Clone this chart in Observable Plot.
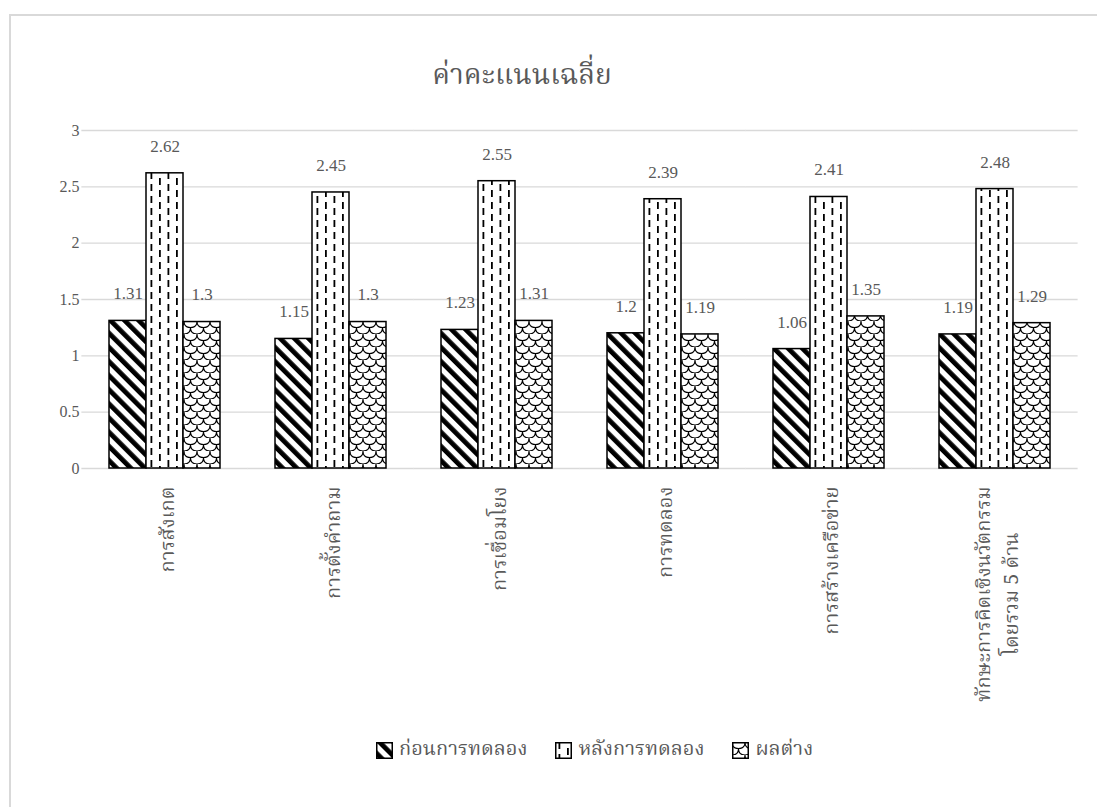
<!DOCTYPE html>
<html><head><meta charset="utf-8">
<script src="https://cdn.jsdelivr.net/npm/d3@7"></script>
<script src="https://cdn.jsdelivr.net/npm/@observablehq/plot@0.6"></script>
<style>
body{margin:0;background:#fff;width:1097px;height:807px;overflow:hidden;position:relative;font-family:"Norasi","Kinnari","Noto Serif Thai","Liberation Serif","DejaVu Serif",serif}
#frame{position:absolute;left:9px;top:14px;width:1200px;height:900px;border:2px solid #d9d9d9;box-sizing:border-box}
#title{position:absolute;top:54px;left:0;width:1044px;text-align:center;font-size:28px;font-weight:normal;color:#595959}
#chart{position:absolute;left:0;top:100px}
#legend{position:absolute;top:734px;left:376px;display:flex;gap:28px;font-size:20px;color:#595959}
#legend .item{display:flex;align-items:center;gap:6px}
</style></head>
<body>
<svg width="0" height="0" style="position:absolute">
<defs>
<pattern id="pBefore" patternUnits="userSpaceOnUse" width="10" height="10" patternTransform="rotate(-45)">
<rect width="10" height="10" fill="#fff"/><rect x="0" y="0" width="4.8" height="10" fill="#000"/>
</pattern>
<pattern id="pAfter" patternUnits="userSpaceOnUse" width="17" height="12">
<rect width="17" height="12" fill="#fff"/>
<rect x="3.5" y="0" width="1.8" height="7" fill="#000"/>
<rect x="12" y="6" width="1.8" height="6" fill="#000"/>
<rect x="12" y="0" width="1.8" height="1" fill="#000"/>
</pattern>
<pattern id="pDiff" patternUnits="userSpaceOnUse" width="13" height="13">
<rect width="13" height="13" fill="#fff"/>
<path d="M0,0 Q0,6.5 6.5,6.5 Q13,6.5 13,0 M-6.5,6.5 Q-6.5,13 0,13 Q6.5,13 6.5,6.5 M6.5,6.5 Q6.5,13 13,13 Q19.5,13 19.5,6.5" fill="none" stroke="#000" stroke-width="1.1"/>
</pattern>
</defs></svg>
<div id="frame"></div>
<div id="title">ค่าคะแนนเฉลี่ย</div>
<div id="chart"></div>
<div id="legend"></div>
<script>
const categories = ["การสังเกต","การตั้งคำถาม","การเชื่อมโยง","การทดลอง","การสร้างเครือข่าย","ทักษะการคิดเชิงนวัตกรรม\nโดยรวม 5 ด้าน"];
const series = ["ก่อนการทดลอง","หลังการทดลอง","ผลต่าง"];
const beforeValues = [1.31,1.15,1.23,1.2,1.06,1.19];
const afterValues = [2.62,2.45,2.55,2.39,2.41,2.48];
const diffValues = [1.3,1.3,1.31,1.19,1.35,1.29];
const yTicks = [0,0.5,1,1.5,2,2.5,3];

const patternIds = ["pBefore","pAfter","pDiff"];
const valueSets = [beforeValues, afterValues, diffValues];
const rows = categories.flatMap((c,i)=>series.map((s,j)=>({category:c, series:s, value:valueSets[j][i]})));

const W = 1097, ML = 80, MR = 19, PI = 0.32, PO = 0.16;
const step = (W - ML - MR) / (categories.length - PI + 2 * PO);
const halfGap = PI * step / 2; // extend gridlines across the gaps between facet cells
const numFont = '"Liberation Serif","DejaVu Serif",serif';
const thaiFont = '"Norasi","Kinnari","Noto Serif Thai","Liberation Serif","DejaVu Serif",serif';

const marks = [
  Plot.ruleY(yTicks, {y: d=>d, stroke:"#d9d9d9", strokeWidth:1.4, insetLeft:-halfGap, insetRight:-halfGap}),
  Plot.axisY({ticks:yTicks, tickFormat:d=>String(d), tickSize:0, tickPadding:29, label:null, fontSize:16, fontFamily:numFont}),
  Plot.axisFx({anchor:"bottom", tickRotate:-90, tickSize:0, tickPadding:18, label:null, fontSize:20, lineHeight:1.4, fontFamily:thaiFont})
];
series.forEach((s,j)=>{
  marks.push(Plot.barY(rows.filter(r=>r.series===s), {fx:"category", x:"series", y:"value", fill:`url(#${patternIds[j]})`, stroke:"#000", strokeWidth:1.5}));
});
marks.push(Plot.text(rows, {fx:"category", x:"series", y:"value", text:d=>String(d.value), dy:-27, fontSize:17, fontFamily:numFont, fill:"#595959", lineAnchor:"middle"}));

const chart = Plot.plot({
  width:W, height:608,
  marginLeft:ML, marginRight:MR, marginTop:30, marginBottom:240,
  style:{fontFamily:numFont, fontSize:"16px", color:"#595959", background:"transparent", overflow:"visible"},
  fx:{domain:categories, paddingInner:PI, paddingOuter:PO},
  x:{domain:series, padding:0, axis:null},
  y:{domain:[0,3]},
  marks
});
document.getElementById("chart").appendChild(chart);

// center the second line of multi-line category labels along the first line
chart.querySelectorAll('g[aria-label="fx-axis tick label"] text').forEach(t=>{
  const spans = t.querySelectorAll("tspan");
  if (spans.length > 1) {
    const len1 = spans[0].getComputedTextLength();
    const anchor = t.getAttribute("text-anchor") || t.parentNode.getAttribute("text-anchor") || "start";
    const sign = anchor === "end" ? -1 : anchor === "middle" ? 0 : 1;
    for (let k = 1; k < spans.length; k++) {
      spans[k].setAttribute("text-anchor","middle");
      spans[k].setAttribute("x", sign * len1/2);
    }
  }
});

const legend = document.getElementById("legend");
series.forEach((s,j)=>{
  const item = document.createElement("div");
  item.className="item";
  item.innerHTML = `<svg width="17" height="17"><rect x="0.75" y="0.75" width="15.5" height="15.5" fill="url(#${patternIds[j]})" stroke="#000" stroke-width="1.5"/></svg><span>${s}</span>`;
  legend.appendChild(item);
});
</script>
</body></html>
